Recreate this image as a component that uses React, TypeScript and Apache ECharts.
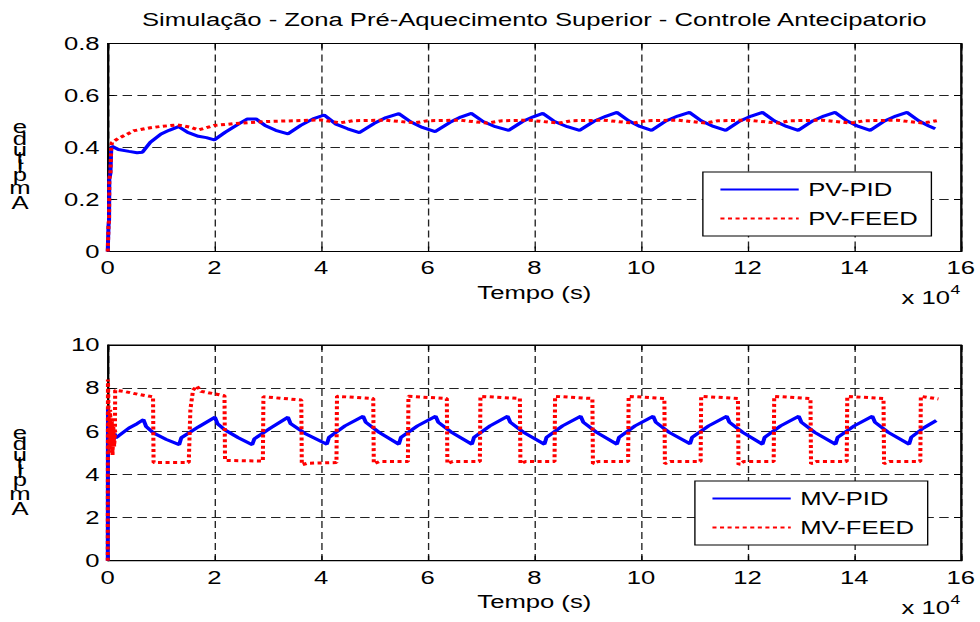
import React, { useEffect, useRef } from "react";
import * as echarts from "echarts";

// ---- data (time in units of 10^4 s) ----
const X_TICKS = [0, 2, 4, 6, 8, 10, 12, 14, 16];
const TOP_Y_TICKS = [0, 0.2, 0.4, 0.6, 0.8];
const BOTTOM_Y_TICKS = [0, 2, 4, 6, 8, 10];

const PV_PID: [number, number][] = [
  [0, 0], [0.015, 0.1], [0.025, 0.12], [0.03, 0.28], [0.05, 0.3], [0.065, 0.39], [0.08, 0.405],
  [0.2, 0.392], [0.4, 0.385], [0.55, 0.38], [0.65, 0.382], [0.8, 0.42], [1.0, 0.452], [1.15, 0.466],
  [1.33, 0.48], [1.5, 0.458], [1.7, 0.443], [1.85, 0.438], [2.0, 0.429], [2.2, 0.458], [2.45, 0.49],
  [2.62, 0.51], [2.78, 0.51], [2.95, 0.485], [3.15, 0.466], [3.38, 0.452], [3.62, 0.485], [3.85, 0.51],
  [4.06, 0.525], [4.28, 0.49], [4.5, 0.472], [4.72, 0.457], [5.0, 0.493], [5.22, 0.515], [5.46, 0.53],
  [5.68, 0.499], [5.9, 0.477], [6.14, 0.461], [6.42, 0.497], [6.62, 0.517], [6.82, 0.531], [7.04, 0.5],
  [7.27, 0.48], [7.52, 0.466], [7.78, 0.5], [7.98, 0.518], [8.16, 0.531], [8.38, 0.5], [8.62, 0.48],
  [8.85, 0.466], [9.12, 0.501], [9.34, 0.52], [9.55, 0.535], [9.77, 0.503], [9.98, 0.481], [10.2, 0.466],
  [10.47, 0.502], [10.69, 0.521], [10.91, 0.535], [11.13, 0.503], [11.36, 0.481], [11.59, 0.466],
  [11.86, 0.502], [12.07, 0.521], [12.28, 0.535], [12.5, 0.503], [12.73, 0.481], [12.95, 0.466],
  [13.22, 0.502], [13.43, 0.521], [13.64, 0.535], [13.86, 0.503], [14.08, 0.481], [14.3, 0.466],
  [14.57, 0.502], [14.78, 0.521], [14.99, 0.535], [15.21, 0.503], [15.4, 0.483], [15.52, 0.472],
];

const PV_FEED: [number, number][] = [
  [0, 0], [0.015, 0.1], [0.025, 0.12], [0.03, 0.28], [0.05, 0.3], [0.065, 0.4], [0.08, 0.42],
  [0.2, 0.435], [0.5, 0.465], [0.8, 0.476], [1.0, 0.481], [1.3, 0.487], [1.55, 0.478], [1.7, 0.468],
  [1.85, 0.476], [2.0, 0.485], [2.5, 0.494], [3.0, 0.5], [3.5, 0.503], [4.0, 0.506], [4.36, 0.495],
  [4.6, 0.503], [5.2, 0.505], [5.76, 0.495], [6.0, 0.503], [6.6, 0.505], [7.12, 0.494], [7.4, 0.503],
  [7.9, 0.505], [8.46, 0.494], [8.7, 0.503], [9.3, 0.505], [9.85, 0.494], [10.1, 0.503], [10.7, 0.505],
  [11.21, 0.494], [11.45, 0.503], [12.0, 0.505], [12.58, 0.494], [12.8, 0.503], [13.4, 0.505],
  [13.94, 0.494], [14.2, 0.503], [14.8, 0.505], [15.29, 0.494], [15.55, 0.503],
];

const MV_PID: [number, number][] = [
  [0, 0], [0.005, 7.1], [0.015, 5.2], [0.03, 6.4], [0.045, 5.3], [0.06, 6.1], [0.075, 5.5], [0.09, 6.0],
  [0.11, 5.6], [0.13, 5.9], [0.15, 5.7], [0.2, 5.78], [0.4, 6.15], [0.55, 6.35], [0.67, 6.54],
  [0.72, 6.22], [0.86, 5.92], [1.1, 5.62], [1.34, 5.38], [1.38, 5.7], [1.7, 6.2], [2.01, 6.65],
  [2.06, 6.35], [2.2, 6.06], [2.45, 5.7], [2.71, 5.38], [2.75, 5.65], [3.05, 6.15], [3.38, 6.65],
  [3.43, 6.35], [3.7, 5.9], [4.11, 5.4], [4.15, 5.72], [4.45, 6.25], [4.79, 6.7], [4.84, 6.42],
  [5.09, 5.95], [5.46, 5.4], [5.5, 5.72], [5.81, 6.25], [6.15, 6.7], [6.2, 6.42], [6.45, 5.95],
  [6.83, 5.4], [6.87, 5.72], [7.17, 6.25], [7.5, 6.7], [7.55, 6.42], [7.8, 5.95], [8.19, 5.4],
  [8.23, 5.72], [8.53, 6.25], [8.87, 6.7], [8.92, 6.42], [9.17, 5.95], [9.55, 5.4], [9.59, 5.72],
  [9.89, 6.25], [10.23, 6.7], [10.28, 6.42], [10.53, 5.95], [10.92, 5.42], [10.96, 5.72], [11.27, 6.25],
  [11.61, 6.7], [11.66, 6.42], [11.91, 5.95], [12.28, 5.4], [12.32, 5.72], [12.62, 6.25], [12.96, 6.7],
  [13.01, 6.42], [13.26, 5.95], [13.65, 5.4], [13.69, 5.72], [14.0, 6.25], [14.34, 6.7], [14.39, 6.42],
  [14.64, 5.95], [15.03, 5.4], [15.07, 5.72], [15.3, 6.15], [15.54, 6.5],
];

const MV_FEED: [number, number][] = [
  [0, 0], [0.004, 8.4], [0.015, 6.9], [0.03, 5.0], [0.045, 7.0], [0.06, 5.2], [0.075, 6.6], [0.09, 4.9],
  [0.105, 6.2], [0.12, 5.3], [0.135, 5.9], [0.14, 7.9], [0.3, 7.85], [0.6, 7.7], [0.85, 7.6], [0.86, 4.55],
  [1.52, 4.55], [1.55, 7.0], [1.6, 7.9], [1.67, 8.1], [1.75, 7.85], [2.19, 7.65], [2.2, 4.65],
  [2.91, 4.62], [2.92, 7.6], [3.63, 7.45], [3.64, 4.45], [3.75, 4.52], [4.29, 4.55], [4.3, 7.62],
  [4.98, 7.52], [4.99, 4.5], [5.1, 4.6], [5.63, 4.6], [5.64, 7.62], [6.36, 7.52], [6.37, 4.5],
  [6.47, 4.6], [6.98, 4.6], [6.99, 7.62], [7.73, 7.52], [7.74, 4.5], [7.84, 4.6], [8.38, 4.6],
  [8.39, 7.62], [9.09, 7.52], [9.1, 4.5], [9.2, 4.6], [9.76, 4.6], [9.77, 7.62], [10.44, 7.52],
  [10.45, 4.5], [10.55, 4.6], [11.12, 4.6], [11.13, 7.62], [11.82, 7.52], [11.83, 4.45], [11.93, 4.6],
  [12.49, 4.6], [12.5, 7.62], [13.18, 7.52], [13.19, 4.5], [13.29, 4.6], [13.86, 4.6], [13.87, 7.62],
  [14.55, 7.52], [14.56, 4.5], [14.66, 4.6], [15.24, 4.6], [15.25, 7.62], [15.58, 7.5],
];

const TITLE = "Simulação - Zona Pré-Aquecimento Superior - Controle Antecipatorio";
const X_LABEL = "Tempo (s)";
// y label, drawn the way the reference shows it: upright letters stacked bottom-to-top
const Y_LABEL_LETTERS = ["e", "d", "u", "t", "i", "l", "p", "m", "A"];
const TOP_NAMES = ["PV-PID", "PV-FEED"];
const BOTTOM_NAMES = ["MV-PID", "MV-FEED"];

// ---- layout (unstretched space; the figure is stretched horizontally) ----
const W = 726;
const H = 622;
const SX = 980 / W;
const FONT = "'Liberation Sans', Arial, Helvetica, sans-serif";
const FS = 19;
const GRID_LEFT = 79.8;
const GRID_W = 632;
const TOP_GRID = { top: 43.5, height: 208 };
const BOT_GRID = { top: 345, height: 215.7 };
const LETTER_LINE_HEIGHTS = [11, 11.2, 10.8, 5.6, 4.2, 4.6, 10.8, 16.6, 13];

function App() {
  const ref = useRef<HTMLDivElement>(null);
  useEffect(() => {
    if (!ref.current) return;
    const chart = echarts.init(ref.current, undefined, { renderer: "svg" });
    const grid = (g: { top: number; height: number }) => ({
      left: GRID_LEFT,
      width: GRID_W,
      top: g.top,
      height: g.height,
      show: true,
      borderColor: "#000",
      borderWidth: 1,
      backgroundColor: "#fff",
      containLabel: false,
    });
    const splitLine = { show: true, lineStyle: { color: "#222", width: 1, type: [7, 4] as any } };
    const xMain = (gi: number) => ({
      type: "value",
      gridIndex: gi,
      min: 0,
      max: 16,
      interval: 2,
      position: "bottom",
      axisLine: { show: true, onZero: false, lineStyle: { color: "#000", width: 1 } },
      axisTick: { show: true, inside: true, length: 5, lineStyle: { color: "#000" } },
      axisLabel: { show: true, color: "#000", fontSize: FS, fontFamily: FONT, margin: 7, showMinLabel: true, showMaxLabel: true },
      splitLine,
    });
    const xTop = (gi: number) => ({
      type: "value",
      gridIndex: gi,
      min: 0,
      max: 16,
      interval: 2,
      position: "top",
      axisLine: { show: true, onZero: false, lineStyle: { color: "#000", width: 1 } },
      axisTick: { show: true, inside: true, length: 5, lineStyle: { color: "#000" } },
      axisLabel: { show: false },
      splitLine: { show: false },
    });
    const yMain = (gi: number, max: number, interval: number) => ({
      type: "value",
      gridIndex: gi,
      min: 0,
      max,
      interval,
      position: "left",
      axisLine: { show: true, onZero: false, lineStyle: { color: "#000", width: 1 } },
      axisTick: { show: true, inside: true, length: 5, lineStyle: { color: "#000" } },
      axisLabel: { show: true, color: "#000", fontSize: FS, fontFamily: FONT, margin: 6 },
      splitLine,
    });
    const yRight = (gi: number, max: number, interval: number) => ({
      type: "value",
      gridIndex: gi,
      min: 0,
      max,
      interval,
      position: "right",
      axisLine: { show: true, onZero: false, lineStyle: { color: "#000", width: 1 } },
      axisTick: { show: true, inside: true, length: 5, lineStyle: { color: "#000" } },
      axisLabel: { show: false },
      splitLine: { show: false },
    });
    const blue = { color: "#0000ff", width: 3, type: "solid" as const };
    const red = { color: "#ff0000", width: 3, type: [3, 2.6] as any, cap: "butt" as const };
    const line = (name: string, data: [number, number][], gi: number, style: any, z: number) => ({
      name,
      type: "line",
      xAxisIndex: gi,
      yAxisIndex: gi,
      data,
      symbol: "none",
      showSymbol: false,
      smooth: false,
      color: style.color,
      lineStyle: style,
      z,
    });
    const legend = (names: string[], left: number, top: number) => ({
      data: names,
      orient: "vertical",
      left,
      top,
      itemWidth: 58,
      itemHeight: 14,
      itemGap: 10,
      padding: [8, 10, 8, 12],
      backgroundColor: "#fff",
      borderColor: "#000",
      borderWidth: 1,
      borderRadius: 0,
      itemStyle: { opacity: 0 },
      textStyle: { color: "#000", fontSize: FS, fontFamily: FONT, padding: [0, 0, 0, 2] },
      selectedMode: false,
    });

    const rich: Record<string, any> = {};
    LETTER_LINE_HEIGHTS.forEach((h, i) => {
      rich["l" + i] = { fontSize: FS, fontFamily: FONT, lineHeight: h, fill: "#000", align: "center" };
    });
    const yLabel = (topY: number) => ({
      type: "text",
      x: 14.8,
      y: topY,
      style: {
        text: Y_LABEL_LETTERS.map((ch, i) => `{l${i}|${ch}}`).join("\n"),
        rich,
        fontSize: FS,
        fontFamily: FONT,
        fill: "#000",
        textAlign: "center",
        textVerticalAlign: "top",
      },
    });

    const texts = (txt: string, x: number, y: number, size: number, align: string) => ({
      type: "text",
      x,
      y,
      style: { text: txt, fontSize: size, fontFamily: FONT, fill: "#000", textAlign: align, textVerticalAlign: "middle" },
    });

    const cx = GRID_LEFT + GRID_W / 2;
    chart.setOption({
      animation: false,
      backgroundColor: "#fff",
      grid: [grid(TOP_GRID), grid(BOT_GRID)],
      xAxis: [xMain(0), xMain(1), xTop(0), xTop(1)],
      yAxis: [yMain(0, 0.8, 0.2), yMain(1, 10, 2), yRight(0, 0.8, 0.2), yRight(1, 10, 2)],
      legend: [legend(TOP_NAMES, 520.7, 172), legend(BOTTOM_NAMES, 514.8, 481)],
      series: [
        line(TOP_NAMES[0], PV_PID, 0, blue, 2),
        line(TOP_NAMES[1], PV_FEED, 0, red, 3),
        line(BOTTOM_NAMES[0], MV_PID, 1, blue, 2),
        line(BOTTOM_NAMES[1], MV_FEED, 1, red, 3),
      ],
      graphic: [
        texts(TITLE, cx, 20, FS, "center"),
        texts(X_LABEL, cx, 293, FS, "center"),
        texts(X_LABEL, cx, 602, FS, "center"),
        texts("x 10", 703.7, 298, FS, "right"),
        texts("4", 704.2, 289, 13, "left"),
        texts("x 10", 703.7, 608, FS, "right"),
        texts("4", 704.2, 599, 13, "left"),
        yLabel(121.6),
        yLabel(427),
      ],
    });
    return () => chart.dispose();
  }, []);
  return (
    <div style={{ position: "absolute", left: 0, top: 0, width: 980, height: H, overflow: "hidden", background: "#fff" }}>
      <div
        ref={ref}
        style={{ width: W, height: H, transform: `scaleX(${SX})`, transformOrigin: "0 0" }}
      />
    </div>
  );
}

export default App;
